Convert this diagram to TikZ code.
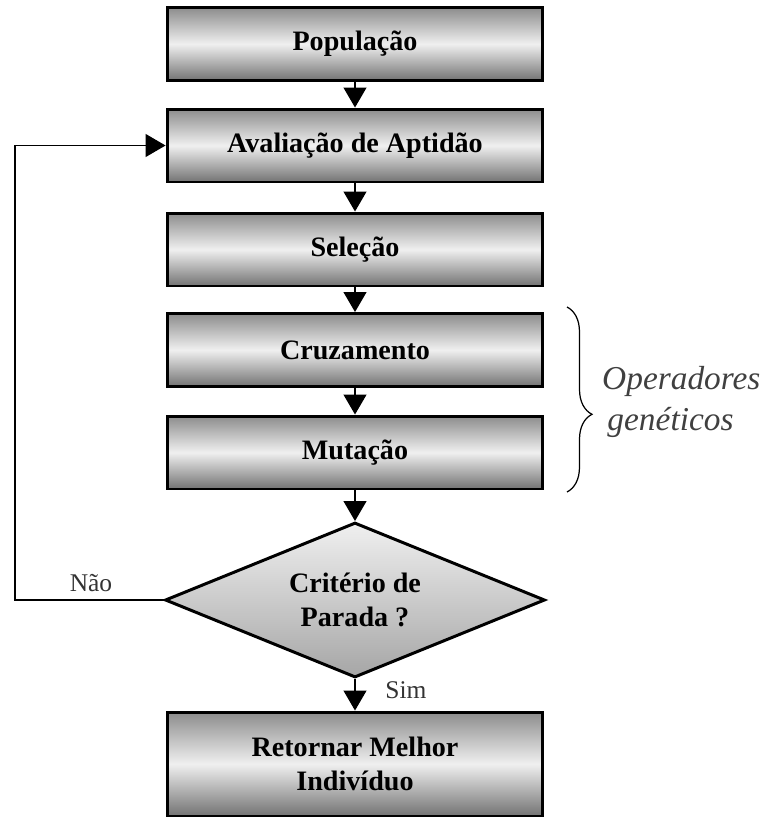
\documentclass[tikz,border=0pt]{standalone}
\usepackage{fontspec}
\setmainfont{Liberation Serif}
\usetikzlibrary{arrows.meta,shapes.geometric,decorations.pathreplacing}

\tikzset{
	etapa/.style={draw,line width=1.7pt,minimum width=7.52cm,minimum height=1.46cm,
		top color=black!45,bottom color=black!55,middle color=black!6,
		font=\fontsize{16}{19}\selectfont\bfseries,align=center},
	teste/.style={draw,diamond,line width=1.7pt,minimum width=7.6cm,minimum height=3.1cm,
		inner sep=0pt,shape aspect=2.4,top color=black!6,bottom color=black!35,
		font=\fontsize{16}{19}\selectfont\bfseries,align=center},
	seta/.style={-{Triangle[width=0.46cm,length=0.4cm]},line width=0.7pt},
	rotulo/.style={text=black!80,font=\fontsize{14.5}{17}\selectfont}
}

\begin{document}
\begin{tikzpicture}[x=0.02cm,y=-0.02cm]
		\useasboundingbox (0,0) rectangle (764,818);
		% etapas do algoritmo
		\node[etapa] (pop) at (355,44) {População};
		\node[etapa] (aval) at (355,145.5) {Avaliação de Aptidão};
		\node[etapa] (sel) at (355,249.5) {Seleção};
		\node[etapa] (cruz) at (355,350) {Cruzamento};
		\node[etapa] (mut) at (355,452.5) {Mutação};
		\node[teste] (crit) at (355,600) {Critério de\\Parada ?};
		\node[etapa,minimum height=2.08cm] (ret) at (355,764) {Retornar Melhor\\Indivíduo};
		% setas
		\draw[seta] (pop) -- (aval);
		\draw[seta] (aval) -- (sel);
		\draw[seta] (sel) -- (cruz);
		\draw[seta] (cruz) -- (mut);
		\draw[seta] (mut) -- (crit);
		\draw[seta] (crit) -- (ret);
		\draw[seta] (crit.west) -- (15,600) |- (aval.west);
		\node[rotulo] (nao) at (91,583) {Não};
		\node[rotulo] (sim) at (406,690) {Sim};
		% operadores
		\draw[line width=0.7pt,decorate,decoration={brace,amplitude=0.5cm,aspect=0.58}]
			(567,307) -- (567,492);
		\node[anchor=west,align=left,text=black!75,
			font=\fontsize{19}{23}\selectfont\itshape] (ops) at (596,402)
			{Operadores\\\hspace{3pt}genéticos};
	\end{tikzpicture}
\end{document}
